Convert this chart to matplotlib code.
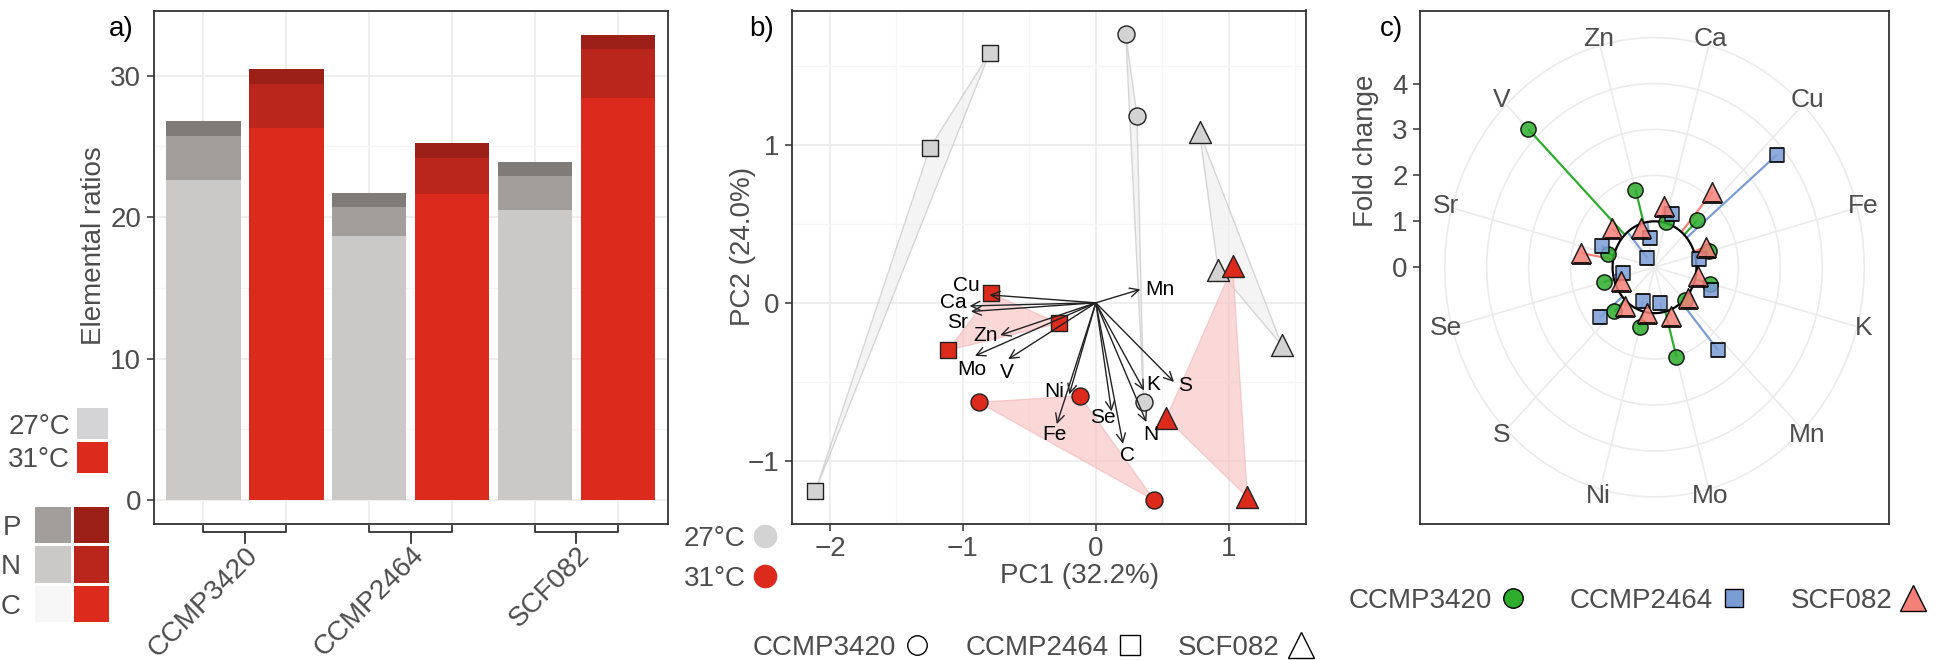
import numpy as np
import matplotlib.pyplot as plt
from matplotlib.lines import Line2D

plt.rcParams['font.family'] = ['Liberation Sans', 'DejaVu Sans']
plt.rcParams['font.size'] = 20

TXT = '#4D4D4D'
FRAME = '#333333'
GRID = '#EBEBEB'
GRID_MIN = '#F5F5F5'

strains = ['CCMP3420', 'CCMP2464', 'SCF082']
temps = ['27°C', '31°C']

# a) elemental ratios, stacked segments (C bottom, N middle, P top)
ratio_C_27 = [22.6, 18.7, 20.5]
ratio_N_27 = [3.15, 2.0, 2.4]
ratio_P_27 = [1.05, 1.0, 1.0]
ratio_C_31 = [26.3, 21.6, 28.4]
ratio_N_31 = [3.1, 2.6, 3.5]
ratio_P_31 = [1.1, 1.05, 1.0]

cols_27 = ['#CAC9C7', '#A29E9B', '#7F7B79']   # C, N, P
cols_31 = ['#DC2A1C', '#BA261C', '#9C1F18']
key_grey = ['#F7F7F7', '#CAC9C7', '#A29E9B']  # C, N, P rows of the key
key_red = ['#DC2A1C', '#BA261C', '#9C1F18']
key_rows = ['C', 'N', 'P']
temp_cols = ['#D4D3D5', '#DC2A1C']

# b) PCA scores, one list per strain
pc1_27 = [[0.225, 0.31, 0.36], [-0.80, -1.25, -2.11], [0.78, 0.92, 1.40]]
pc2_27 = [[1.70, 1.18, -0.63], [1.58, 0.98, -1.19], [1.08, 0.21, -0.27]]
pc1_31 = [[-0.88, -0.12, 0.44], [-0.79, -0.28, -1.11], [1.03, 0.53, 1.14]]
pc2_31 = [[-0.63, -0.59, -1.25], [0.06, -0.13, -0.30], [0.23, -0.73, -1.23]]

# b) loadings
load_names = ['Mn', 'Cu', 'Ca', 'Sr', 'Zn', 'Mo', 'V', 'Ni', 'Fe', 'Se', 'C', 'N', 'K', 'S']
load_x = [0.335, -0.80, -0.95, -0.94, -0.72, -0.91, -0.66, -0.20, -0.294, 0.118, 0.204, 0.38, 0.363, 0.588]
load_y = [0.085, 0.05, -0.02, -0.055, -0.205, -0.336, -0.357, -0.58, -0.768, -0.688, -0.893, -0.755, -0.555, -0.501]
lab_x = [0.48, -0.972, -1.073, -1.043, -0.827, -0.935, -0.671, -0.311, -0.311, 0.052, 0.239, 0.411, 0.429, 0.671]
lab_y = [0.085, 0.11, 0.0, -0.125, -0.209, -0.42, -0.441, -0.56, -0.835, -0.728, -0.968, -0.835, -0.515, -0.523]

# c) fold change 31/27 per element
elements = ['Ca', 'Cu', 'Fe', 'K', 'Mn', 'Mo', 'Ni', 'S', 'Se', 'Sr', 'V', 'Zn']
fc_ccmp3420 = [1.03, 1.44, 1.35, 1.38, 1.02, 2.02, 1.34, 1.36, 1.25, 1.14, 4.25, 1.75]
fc_ccmp2464 = [1.23, 3.81, 1.075, 1.44, 2.35, 0.78, 0.79, 1.70, 0.77, 1.34, 0.26, 0.64]
fc_scf082 = [1.36, 2.15, 1.30, 1.06, 1.03, 1.13, 1.02, 1.11, 0.85, 1.79, 1.33, 0.91]

strain_cols = ['#2EAD2E', '#7B9DD6', '#F58078']
markers = ['o', 's', '^']

W, H = 1952, 660
fig = plt.figure(figsize=(W / 100, H / 100), dpi=100)


def rect(l, t, r, b):
    return [l / W, 1 - b / H, (r - l) / W, (b - t) / H]


def style_frame(ax):
    for s in ax.spines.values():
        s.set_color(FRAME)
        s.set_linewidth(1.3)
    ax.tick_params(which='major', length=5, width=1.1, color=FRAME, labelcolor=TXT, pad=4)


# ---------------- a) ----------------
ax_a = fig.add_axes(rect(153.5, 10.5, 667.7, 524))
style_frame(ax_a)
x = np.arange(len(strains))
for j, (C, N, P, cols) in enumerate([(ratio_C_27, ratio_N_27, ratio_P_27, cols_27),
                                     (ratio_C_31, ratio_N_31, ratio_P_31, cols_31)]):
    pos = 2 * x + j + 1
    ax_a.bar(pos, C, width=0.9, color=cols[0])
    ax_a.bar(pos, N, bottom=C, width=0.9, color=cols[1])
    ax_a.bar(pos, P, bottom=np.add(C, N), width=0.9, color=cols[2])
ax_a.set_xlim(0.4, 6.6)
ax_a.set_ylim(-1.68, 34.6)
ax_a.set_yticks([0, 10, 20, 30])
ax_a.set_yticks([5, 15, 25], minor=True)
ax_a.set_xticks(np.arange(1, 7), minor=True)
ax_a.grid(which='major', axis='y', color=GRID, lw=1.2)
ax_a.grid(which='minor', axis='y', color=GRID_MIN, lw=1)
ax_a.grid(which='minor', axis='x', color=GRID, lw=1.2)
ax_a.set_axisbelow(True)
ax_a.set_xticks(2 * x + 1.5, strains, rotation=45, ha='right', rotation_mode='anchor')
ax_a.tick_params(axis='x', which='both', length=0, pad=13)
ax_a.tick_params(axis='y', which='minor', length=0)
ax_a.set_ylabel('Elemental ratios', color=TXT)
ax_a.yaxis.set_label_coords(-0.09, 0.543)

# brackets under each strain
tr = ax_a.get_xaxis_transform()
y0, y1, y2 = -2 / 513.5, -8 / 513.5, -19 / 513.5
for i in x:
    ax_a.plot([2 * i + 1, 2 * i + 1, 2 * i + 2, 2 * i + 2], [y0, y1, y1, y0],
              transform=tr, clip_on=False, color=FRAME, lw=1.3)
    ax_a.plot([2 * i + 1.5, 2 * i + 1.5], [y1, y2], transform=tr, clip_on=False,
              color=FRAME, lw=1.3)

# temperature key
ax_t = fig.add_axes(rect(77, 407, 108, 474))
ax_t.barh([1, 0], [1, 1], height=0.92, color=temp_cols)
ax_t.set_xlim(0, 1)
ax_t.set_ylim(-0.5, 1.5)
ax_t.set_yticks([1, 0], temps)
ax_t.set_xticks([])
ax_t.tick_params(axis='y', length=0, pad=5, labelcolor=TXT)
for s in ax_t.spines.values():
    s.set_visible(False)

# C/N/P key
ax_k = fig.add_axes(rect(33.5, 505, 111, 624))
rows = np.arange(len(key_rows))
ax_k.barh(rows, [0.91] * 3, left=-0.455, height=0.91, color=key_grey)
ax_k.barh(rows, [0.91] * 3, left=0.545, height=0.91, color=key_red)
ax_k.set_xlim(-0.5, 1.5)
ax_k.set_ylim(-0.5, 2.5)
ax_k.set_yticks(rows, key_rows)
ax_k.set_xticks([])
ax_k.tick_params(axis='y', length=0, pad=9, labelcolor=TXT)
for s in ax_k.spines.values():
    s.set_visible(False)

# ---------------- b) ----------------
ax_b = fig.add_axes(rect(792.3, 10.5, 1305.7, 524))
style_frame(ax_b)
ax_b.set_xlim(-2.284, 1.579)
ax_b.set_ylim(-1.40, 1.85)
ax_b.set_xticks([-2, -1, 0, 1])
ax_b.set_yticks([-1, 0, 1])
ax_b.set_xticks([-1.5, -0.5, 0.5, 1.5], minor=True)
ax_b.set_yticks([-0.5, 0.5, 1.5], minor=True)
ax_b.tick_params(which='minor', length=0)
ax_b.grid(which='major', color=GRID, lw=1.2)
ax_b.grid(which='minor', color=GRID_MIN, lw=1)
ax_b.set_axisbelow(True)

for i in range(len(strains)):
    ax_b.fill(pc1_27[i], pc2_27[i], facecolor='#EEEEEE', alpha=0.6, edgecolor='#BDBDBD',
              lw=1, zorder=1)
    ax_b.fill(pc1_31[i], pc2_31[i], facecolor='#F9C4C4', alpha=0.65, edgecolor='#F2B8B8',
              lw=1, zorder=1)
sizes_b = [150, 125, 250]
for i in range(len(strains)):
    ax_b.scatter(pc1_27[i], pc2_27[i], marker=markers[i], s=sizes_b[i], c='#D3D3D3',
                 edgecolors='#222222', linewidths=1, zorder=3)
    ax_b.scatter(pc1_31[i], pc2_31[i], marker=markers[i], s=sizes_b[i], c='#DC2A1C',
                 edgecolors='#222222', linewidths=1, zorder=3)
for name, lx, ly, tx, ty in zip(load_names, load_x, load_y, lab_x, lab_y):
    ax_b.annotate('', xy=(lx, ly), xytext=(0, 0),
                  arrowprops=dict(arrowstyle='->', color='#222222', lw=1,
                                  mutation_scale=16, shrinkA=0, shrinkB=0), zorder=4)
    ax_b.text(tx, ty, name, ha='center', va='center', fontsize=15, color='black', zorder=5)
ax_b.set_xlabel('PC1 (32.2%)', color=TXT)
ax_b.xaxis.set_label_coords(0.56, -0.075)
ax_b.set_ylabel('PC2 (24.0%)', color=TXT)
ax_b.yaxis.set_label_coords(-0.07, 0.54)

temp_handles = [Line2D([], [], ls='', marker='o', markersize=17, markerfacecolor=c,
                       markeredgecolor='none') for c in ['#D3D3D3', '#DC2A1C']]
fig.legend(temp_handles, temps, loc='center', bbox_to_anchor=(730 / W, 1 - 559 / H),
           frameon=False, markerfirst=False, handlelength=0.8, handletextpad=0.3,
           labelspacing=0.5, borderpad=0, labelcolor=TXT)
shape_handles = [Line2D([], [], ls='', marker=m, markersize=ms, markerfacecolor='white',
                        markeredgecolor='black', markeredgewidth=1)
                 for m, ms in zip(markers, [14, 14, 19])]
fig.legend(shape_handles, strains, loc='center', bbox_to_anchor=(1033 / W, 1 - 648 / H),
           ncol=3, frameon=False, markerfirst=False, handlelength=0.9, handletextpad=0.3,
           columnspacing=1.3, borderpad=0, labelcolor=TXT)

# ---------------- c) ----------------
R = 5.59
rect_c = rect(1420, 10.5, 1889, 524)
ax_c = fig.add_axes(rect_c)
style_frame(ax_c)
ax_c.set_xlim(-1, 1)
ax_c.set_ylim(-R, R)
ax_c.set_xticks([])
ax_c.set_yticks(range(5))
ax_c.set_ylabel('Fold change', color=TXT)
ax_c.yaxis.set_label_coords(-0.087, 0.727)

ax_p = fig.add_axes(rect_c, projection='polar')
ax_p.set_aspect('auto')
ax_p.set_theta_zero_location('N', offset=-15)
ax_p.set_theta_direction(-1)
ax_p.set_ylim(0, R)
ax_p.patch.set_alpha(0)
ax_p.spines['polar'].set_visible(False)
ax_p.set_xticks([])
ax_p.set_yticks([1, 2, 3, 4, 5])
ax_p.set_yticklabels([])
ax_p.grid(color=GRID, lw=1.2)
theta = np.deg2rad(np.arange(len(elements)) * 360 / len(elements))
for t, name in zip(theta, elements):
    ax_p.plot([t, t], [0, 5], color=GRID, lw=1.2, zorder=0.5)
    ax_p.text(t, 5.15, name, ha='center', va='center', fontsize=19, color=TXT)

dodge = np.deg2rad([0, 5, -5])
sizes_c = [120, 95, 200]
fcs = [fc_ccmp3420, fc_ccmp2464, fc_scf082]
for i in range(len(strains)):
    ax_p.vlines(theta + dodge[i], 1, fcs[i], colors=strain_cols[i], lw=1.6, zorder=2)
ring = np.linspace(0, 2 * np.pi, 361)
ax_p.plot(ring, np.ones_like(ring), color='black', lw=1.6, zorder=3)
for i in range(len(strains)):
    ax_p.scatter(theta + dodge[i], fcs[i], marker=markers[i], s=sizes_c[i], c=strain_cols[i],
                 edgecolors='black', linewidths=1.1, alpha=0.85, zorder=4 + i)

fill_handles = [Line2D([], [], ls='', marker=m, markersize=ms, markerfacecolor=c,
                       markeredgecolor='black', markeredgewidth=1)
                for m, ms, c in zip(markers, [14, 13, 19], strain_cols)]
fig.legend(fill_handles, strains, loc='center', bbox_to_anchor=(1637 / W, 1 - 601 / H),
           ncol=3, frameon=False, markerfirst=False, handlelength=0.9, handletextpad=0.3,
           columnspacing=1.6, borderpad=0, labelcolor=TXT)

fig.text(134 / W, 1 - 29 / H, 'a)', ha='right', va='center', fontsize=20)
fig.text(774 / W, 1 - 29 / H, 'b)', ha='right', va='center', fontsize=20)
fig.text(1403 / W, 1 - 29 / H, 'c)', ha='right', va='center', fontsize=20)

fig.savefig('out.png', dpi=100)
